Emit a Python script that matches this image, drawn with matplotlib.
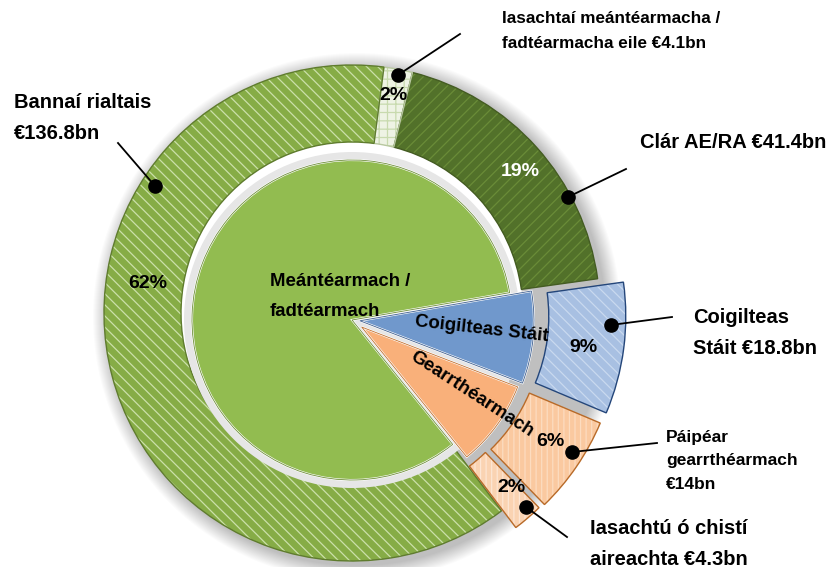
import matplotlib
matplotlib.use("Agg")
import matplotlib.pyplot as plt
from matplotlib.patches import Circle

plt.rcParams['font.family'] = ['Liberation Sans', 'DejaVu Sans']
plt.rcParams['hatch.linewidth'] = 0.9

# data (€bn)
outer_names = ["Coigilteas Stáit", "Clár AE/RA", "Iasachtaí meántéarmacha / fadtéarmacha eile",
               "Bannaí rialtais", "Iasachtú ó chistí aireachta", "Páipéar gearrthéarmach"]
outer_vals = [18.8, 41.4, 4.1, 136.8, 4.3, 14.0]
inner_names = ["Coigilteas Stáit", "Meántéarmach /\nfadtéarmach", "Gearrthéarmach"]
inner_vals = [18.8, 182.3, 18.3]

outer_face = ['#A8C0E2', '#52712A', '#EEF3E4', '#86AC46', '#FAD3B2', '#FAC9A0']
outer_hatch = ['\\\\\\', '///', '++', '\\\\\\', '|||', '|||']
outer_hcol = ['#C9D9EF', '#6A8C38', '#C8DAAE', '#CBE0AA', '#FDE6D4', '#FCDCC0']
outer_edge = ['#24467A', '#445C22', '#B8C8A0', '#5F7C2E', '#B86A28', '#B86A28']
outer_explode = [26, 0, 0, 0, 22, 24]
inner_face = ['#7098CC', '#92BC50', '#F9B07A']
inner_explode = [8, 0, 12]
inner_radius = [174, 160, 167]

H = 567
ring_c = (352, H - 313)
pie_c = (352, H - 320)
R_out, R_w = 248, 77

fig = plt.figure(figsize=(8.34, 5.67), dpi=100)
ax = fig.add_axes([0, 0, 1, 1])

# soft shadow behind the ring, cleared inside the hole
for i in range(16):
    ax.add_patch(Circle((ring_c[0] + 5, ring_c[1] - 4), R_out + 16 - i,
                        color='black', alpha=0.014, lw=0, zorder=0))
ax.add_patch(Circle(ring_c, R_out - R_w, color='white', lw=0, zorder=1))

# outer ring: fill + hatch, then outline
wedges, _ = ax.pie(outer_vals, radius=R_out, center=ring_c, startangle=-22.9,
                   explode=outer_explode, wedgeprops=dict(width=R_w, linewidth=0))
for w, fc, hc, ht in zip(wedges, outer_face, outer_hcol, outer_hatch):
    w.set_facecolor(fc)
    w.set_edgecolor(hc)
    w.set_hatch(ht)
    w.set_zorder(2)
wedges2, _ = ax.pie(outer_vals, radius=R_out, center=ring_c, startangle=-22.9,
                    explode=outer_explode, wedgeprops=dict(width=R_w, linewidth=1.0, fill=False))
for w, ec in zip(wedges2, outer_edge):
    w.set_edgecolor(ec)
    w.set_zorder(3)

# gray band around inner pie
ax.add_patch(Circle(pie_c, inner_radius[1] + 8, color='#E6E6E6', lw=0, zorder=3))

iw, _ = ax.pie(inner_vals, radius=inner_radius[1], center=pie_c, startangle=-21,
               explode=inner_explode, colors=inner_face,
               wedgeprops=dict(linewidth=1.5, edgecolor='white'))
iw2, _ = ax.pie(inner_vals, radius=inner_radius[1], center=pie_c, startangle=-21,
                explode=inner_explode,
                wedgeprops=dict(linewidth=0.6, fill=False))
for w, w2, r, ec in zip(iw, iw2, inner_radius, ['#3F5F8F', '#6E8E3A', '#C07030']):
    w.set_radius(r)
    w2.set_radius(r)
    w.set_zorder(4)
    w2.set_edgecolor(ec)
    w2.set_zorder(5)

total = sum(outer_vals)
pct = [f"{round(v / total * 100):.0f}%" for v in outer_vals]

# percentage labels (image pixel positions)
pct_pos = [(583, 347), (520, 172), (393, 95), (148, 283), (511, 488), (550, 442)]
pct_col = ['black', 'white', 'black', 'black', 'black', 'black']
for p, (x, y), c in zip(pct, pct_pos, pct_col):
    ax.text(x, H - y, p, ha='center', va='center', fontsize=14, fontweight='bold',
            color=c, zorder=10)

# inner labels
ax.text(270, H - 296, inner_names[1], ha='left', va='center', fontsize=13.4,
        fontweight='bold', linespacing=2.0, zorder=10)
ax.text(482, H - 329, inner_names[0], ha='center', va='center', fontsize=13.4,
        fontweight='bold', rotation=-6.5, zorder=10)
ax.text(472, H - 394, inner_names[2], ha='center', va='center', fontsize=13.4,
        fontweight='bold', rotation=-33, zorder=10)

# external labels with leaders: text, (left x, centre y), size, spacing, dot, line end
ext = [
    ("Iasachtaí meántéarmacha /\nfadtéarmacha eile €4.1bn", (502, 31), 12.3, 1.85, (398, 75), (460, 34)),
    ("Bannaí rialtais\n€136.8bn", (14, 118), 14.5, 1.8, (155, 186), (118, 143)),
    ("Clár AE/RA €41.4bn", (640, 143), 14.5, 1.8, (568, 197), (626, 169)),
    ("Coigilteas\nStáit €18.8bn", (693, 333), 14.5, 1.8, (611, 325), (672, 317)),
    ("Páipéar\ngearrthéarmach\n€14bn", (666, 461), 12.5, 1.7, (572, 452), (657, 443)),
    ("Iasachtú ó chistí\naireachta €4.3bn", (590, 544), 14.5, 1.75, (526, 507), (567, 537)),
]
for txt, (tx, ty), fs, ls, (dx, dy), (lx, ly) in ext:
    ax.text(tx, H - ty, txt, ha='left', va='center', fontsize=fs, fontweight='bold',
            linespacing=ls, zorder=10)
    ax.plot([dx, lx], [H - dy, H - ly], color='black', lw=1.3, zorder=11)
    ax.plot(dx, H - dy, 'o', color='black', markersize=9.5, zorder=12)

ax.set_xlim(0, 834)
ax.set_ylim(0, H)
ax.set_aspect('equal', adjustable='box')
ax.axis('off')

fig.savefig("out.png", dpi=100)
